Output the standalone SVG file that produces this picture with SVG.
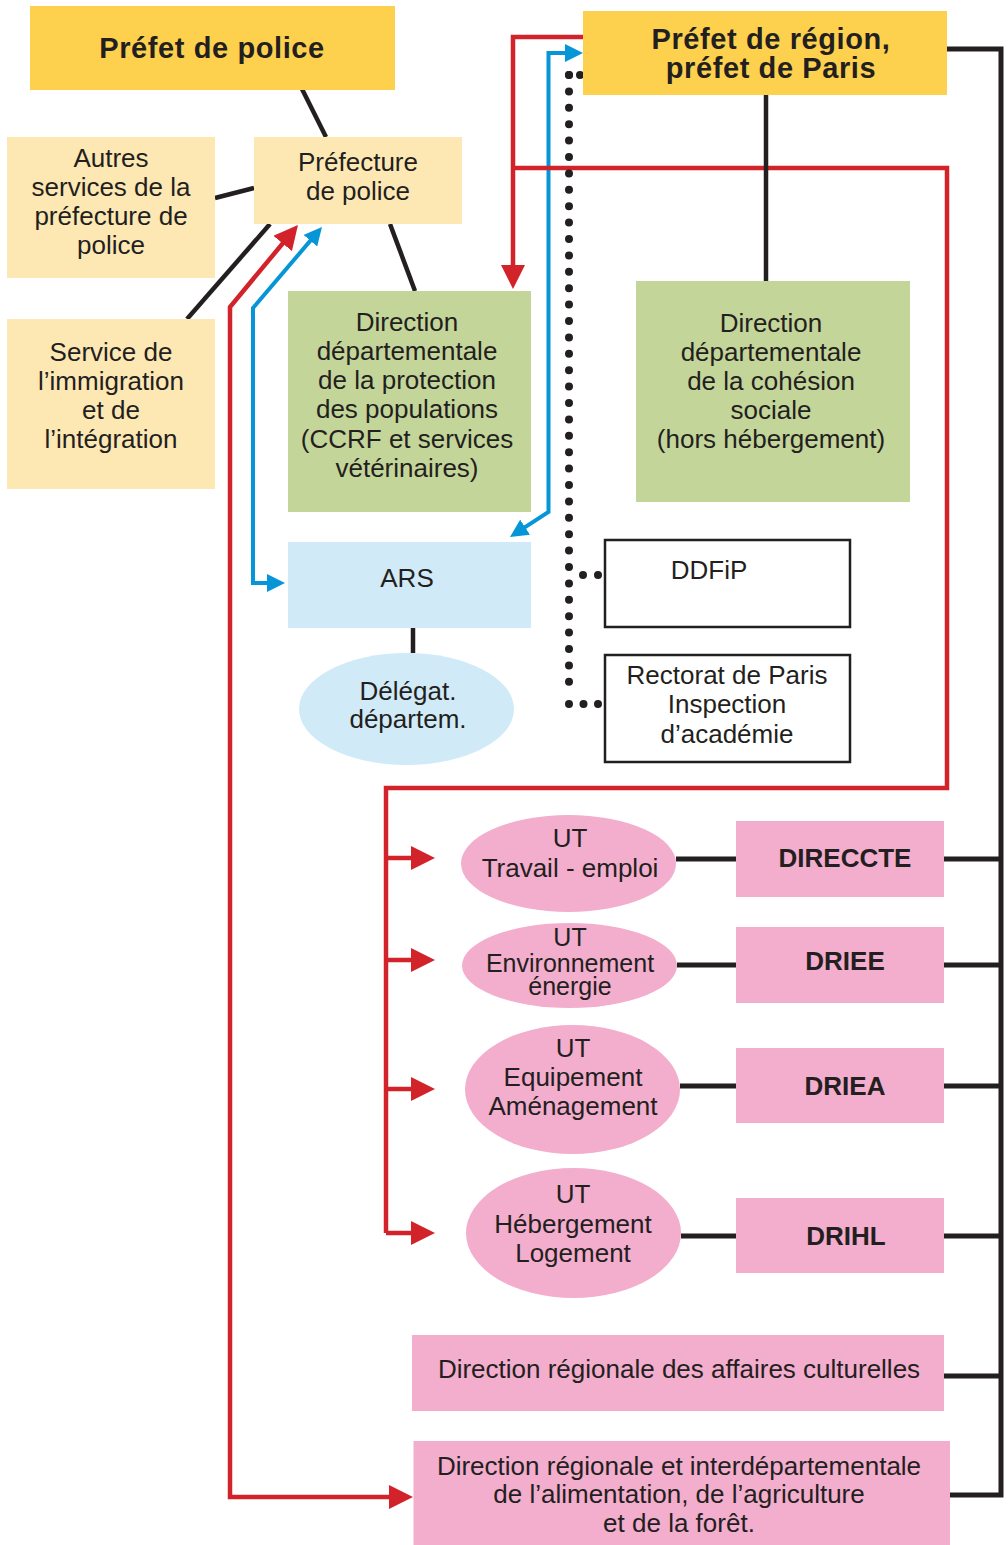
<svg xmlns="http://www.w3.org/2000/svg" width="1008" height="1545" viewBox="0 0 1008 1545">
<defs>
<style>
.t{font-family:"Liberation Sans",Arial,sans-serif;font-size:26px;fill:#231F20;text-anchor:middle}
.b{font-weight:bold}
.h{font-size:29px;letter-spacing:0.6px}
.s{font-size:25px}
.yd{fill:#FDD04E}
.yl{fill:#FDE8B4}
.g{fill:#C4D59A}
.lb{fill:#D0EAF8}
.pk{fill:#F3ADCD}
.wb{fill:#FFFFFF;stroke:#231F20;stroke-width:2.5}
.k{fill:none;stroke:#231F20;stroke-width:4.5}
.kk{fill:none;stroke:#231F20;stroke-width:5}
.r{fill:none;stroke:#D2232A;stroke-width:4.5}
.bl{fill:none;stroke:#0696D7;stroke-width:4}
.dot{fill:none;stroke:#231F20;stroke-width:8;stroke-linecap:round}
</style>
<marker id="ra" viewBox="0 0 24 24" refX="14" refY="12" markerWidth="24" markerHeight="24" markerUnits="userSpaceOnUse" orient="auto-start-reverse"><path d="M0,0L24,12L0,24z" fill="#D2232A"/></marker>
<marker id="ba" viewBox="0 0 18 18" refX="10" refY="9" markerWidth="18" markerHeight="18" markerUnits="userSpaceOnUse" orient="auto-start-reverse"><path d="M0,0L18,9L0,18z" fill="#0696D7"/></marker>
</defs>
<rect x="0" y="0" width="1008" height="1545" fill="#FFFFFF"/>

<g id="connectors">
<path class="bl" d="M575,53 H548.5 V512 L516.7,532.6" marker-start="url(#ba)" marker-end="url(#ba)"/>
<path class="bl" d="M316.8,233.1 L253,308 V583 H277" marker-start="url(#ba)" marker-end="url(#ba)"/>
<path class="r" d="M583,37 H513 V279" marker-end="url(#ra)"/>
<path class="r" d="M513,168 H947 V788 H386 V1233"/>
<path class="r" d="M386,858 H425" marker-end="url(#ra)"/>
<path class="r" d="M386,960 H425" marker-end="url(#ra)"/>
<path class="r" d="M386,1089 H425" marker-end="url(#ra)"/>
<path class="r" d="M386,1233 H425" marker-end="url(#ra)"/>
<path class="r" d="M291.6,232.7 L230,307 V1497 H403" marker-start="url(#ra)" marker-end="url(#ra)"/>
<path class="dot" d="M569,75 V682.5" stroke-dasharray="0 16.4"/>
<path class="dot" d="M569,75 H580.5" stroke-dasharray="0 11"/>
<path class="dot" d="M583,575 H598.5" stroke-dasharray="0 15"/>
<path class="dot" d="M569,704 H598.5" stroke-dasharray="0 14.5"/>
<path class="k" d="M302,89 L326,137"/>
<path class="k" d="M215,198 L254,188"/>
<path class="k" d="M187,319 L270,224"/>
<path class="k" d="M390,224 L415,291"/>
<path class="k" d="M766,95 V281"/>
<path class="k" d="M413,628 V653"/>
<path class="kk" d="M947,49 H1001 V1495 H950"/>
<path class="kk" d="M944,859 H1001 M944,965 H1001 M944,1086 H1001 M944,1236 H1001 M944,1376 H1001"/>
<path class="kk" d="M676,859 H736 M677,965 H736 M680,1086 H736 M681,1236 H736"/>
</g>

<g id="prefet-police">
<rect class="yd" x="30" y="6" width="365" height="84"/>
<text class="t b h" x="212" y="58">Préfet de police</text>
</g>
<g id="prefet-region">
<rect class="yd" x="583" y="11" width="364" height="84"/>
<text class="t b h" x="771" y="49">Préfet de région,</text>
<text class="t b h" x="771" y="78">préfet de Paris</text>
</g>
<g id="prefecture-police">
<rect class="yl" x="254" y="137" width="208" height="87"/>
<text class="t" x="358" y="171">Préfecture</text>
<text class="t" x="358" y="200">de police</text>
</g>
<g id="autres-services">
<rect class="yl" x="7" y="137" width="208" height="141"/>
<text class="t" x="111" y="167">Autres</text>
<text class="t" x="111" y="196">services de la</text>
<text class="t" x="111" y="225">préfecture de</text>
<text class="t" x="111" y="254">police</text>
</g>
<g id="service-immigration">
<rect class="yl" x="7" y="319" width="208" height="170"/>
<text class="t" x="111" y="361">Service de</text>
<text class="t" x="111" y="390">l’immigration</text>
<text class="t" x="111" y="419">et de</text>
<text class="t" x="111" y="448">l’intégration</text>
</g>
<g id="ddpp">
<rect class="g" x="288" y="291" width="243" height="221"/>
<text class="t" x="407" y="331">Direction</text>
<text class="t" x="407" y="360">départementale</text>
<text class="t" x="407" y="389">de la protection</text>
<text class="t" x="407" y="418">des populations</text>
<text class="t" x="407" y="448">(CCRF et services</text>
<text class="t" x="407" y="477">vétérinaires)</text>
</g>
<g id="ddcs">
<rect class="g" x="636" y="281" width="274" height="221"/>
<text class="t" x="771" y="332">Direction</text>
<text class="t" x="771" y="361">départementale</text>
<text class="t" x="771" y="390">de la cohésion</text>
<text class="t" x="771" y="419">sociale</text>
<text class="t" x="771" y="448">(hors hébergement)</text>
</g>
<g id="ars">
<rect class="lb" x="288" y="542" width="243" height="86"/>
<text class="t" x="407" y="587">ARS</text>
</g>
<g id="delegat">
<ellipse class="lb" cx="406.5" cy="709" rx="107.5" ry="56"/>
<text class="t" x="408" y="700">Délégat.</text>
<text class="t" x="408" y="728">départem.</text>
</g>
<g id="ddfip">
<rect class="wb" x="605" y="540" width="245" height="87"/>
<text class="t" x="709" y="579">DDFiP</text>
</g>
<g id="rectorat">
<rect class="wb" x="605" y="655" width="245" height="107"/>
<text class="t" x="727" y="684">Rectorat de Paris</text>
<text class="t" x="727" y="713">Inspection</text>
<text class="t" x="727" y="743">d’académie</text>
</g>
<g id="ut-travail">
<ellipse class="pk" cx="568.5" cy="863.5" rx="107.5" ry="48.5"/>
<text class="t" x="570" y="847">UT</text>
<text class="t" x="570" y="877">Travail - emploi</text>
</g>
<g id="direccte">
<rect class="pk" x="736" y="821" width="208" height="76"/>
<text class="t b" x="845" y="867">DIRECCTE</text>
</g>
<g id="ut-environnement">
<ellipse class="pk" cx="569.5" cy="965.5" rx="107.5" ry="42.5"/>
<text class="t s" x="570" y="946">UT</text>
<text class="t s" x="570" y="972">Environnement</text>
<text class="t s" x="570" y="995">énergie</text>
</g>
<g id="driee">
<rect class="pk" x="736" y="927" width="208" height="76"/>
<text class="t b" x="845" y="970">DRIEE</text>
</g>
<g id="ut-equipement">
<ellipse class="pk" cx="572.5" cy="1089.5" rx="107.5" ry="64.5"/>
<text class="t" x="573" y="1057">UT</text>
<text class="t" x="573" y="1086">Equipement</text>
<text class="t" x="573" y="1115">Aménagement</text>
</g>
<g id="driea">
<rect class="pk" x="736" y="1048" width="208" height="75"/>
<text class="t b" x="845" y="1095">DRIEA</text>
</g>
<g id="ut-hebergement">
<ellipse class="pk" cx="573.5" cy="1233" rx="107.5" ry="65"/>
<text class="t" x="573" y="1203">UT</text>
<text class="t" x="573" y="1233">Hébergement</text>
<text class="t" x="573" y="1262">Logement</text>
</g>
<g id="drihl">
<rect class="pk" x="736" y="1198" width="208" height="75"/>
<text class="t b" x="846" y="1245">DRIHL</text>
</g>
<g id="drac">
<rect class="pk" x="412" y="1335" width="532" height="76"/>
<text class="t" x="679" y="1378">Direction régionale des affaires culturelles</text>
</g>
<g id="draaf">
<rect class="pk" x="413.5" y="1441" width="536.5" height="104"/>
<text class="t" x="679" y="1475">Direction régionale et interdépartementale</text>
<text class="t" x="679" y="1503">de l’alimentation, de l’agriculture</text>
<text class="t" x="679" y="1532">et de la forêt.</text>
</g>
</svg>
